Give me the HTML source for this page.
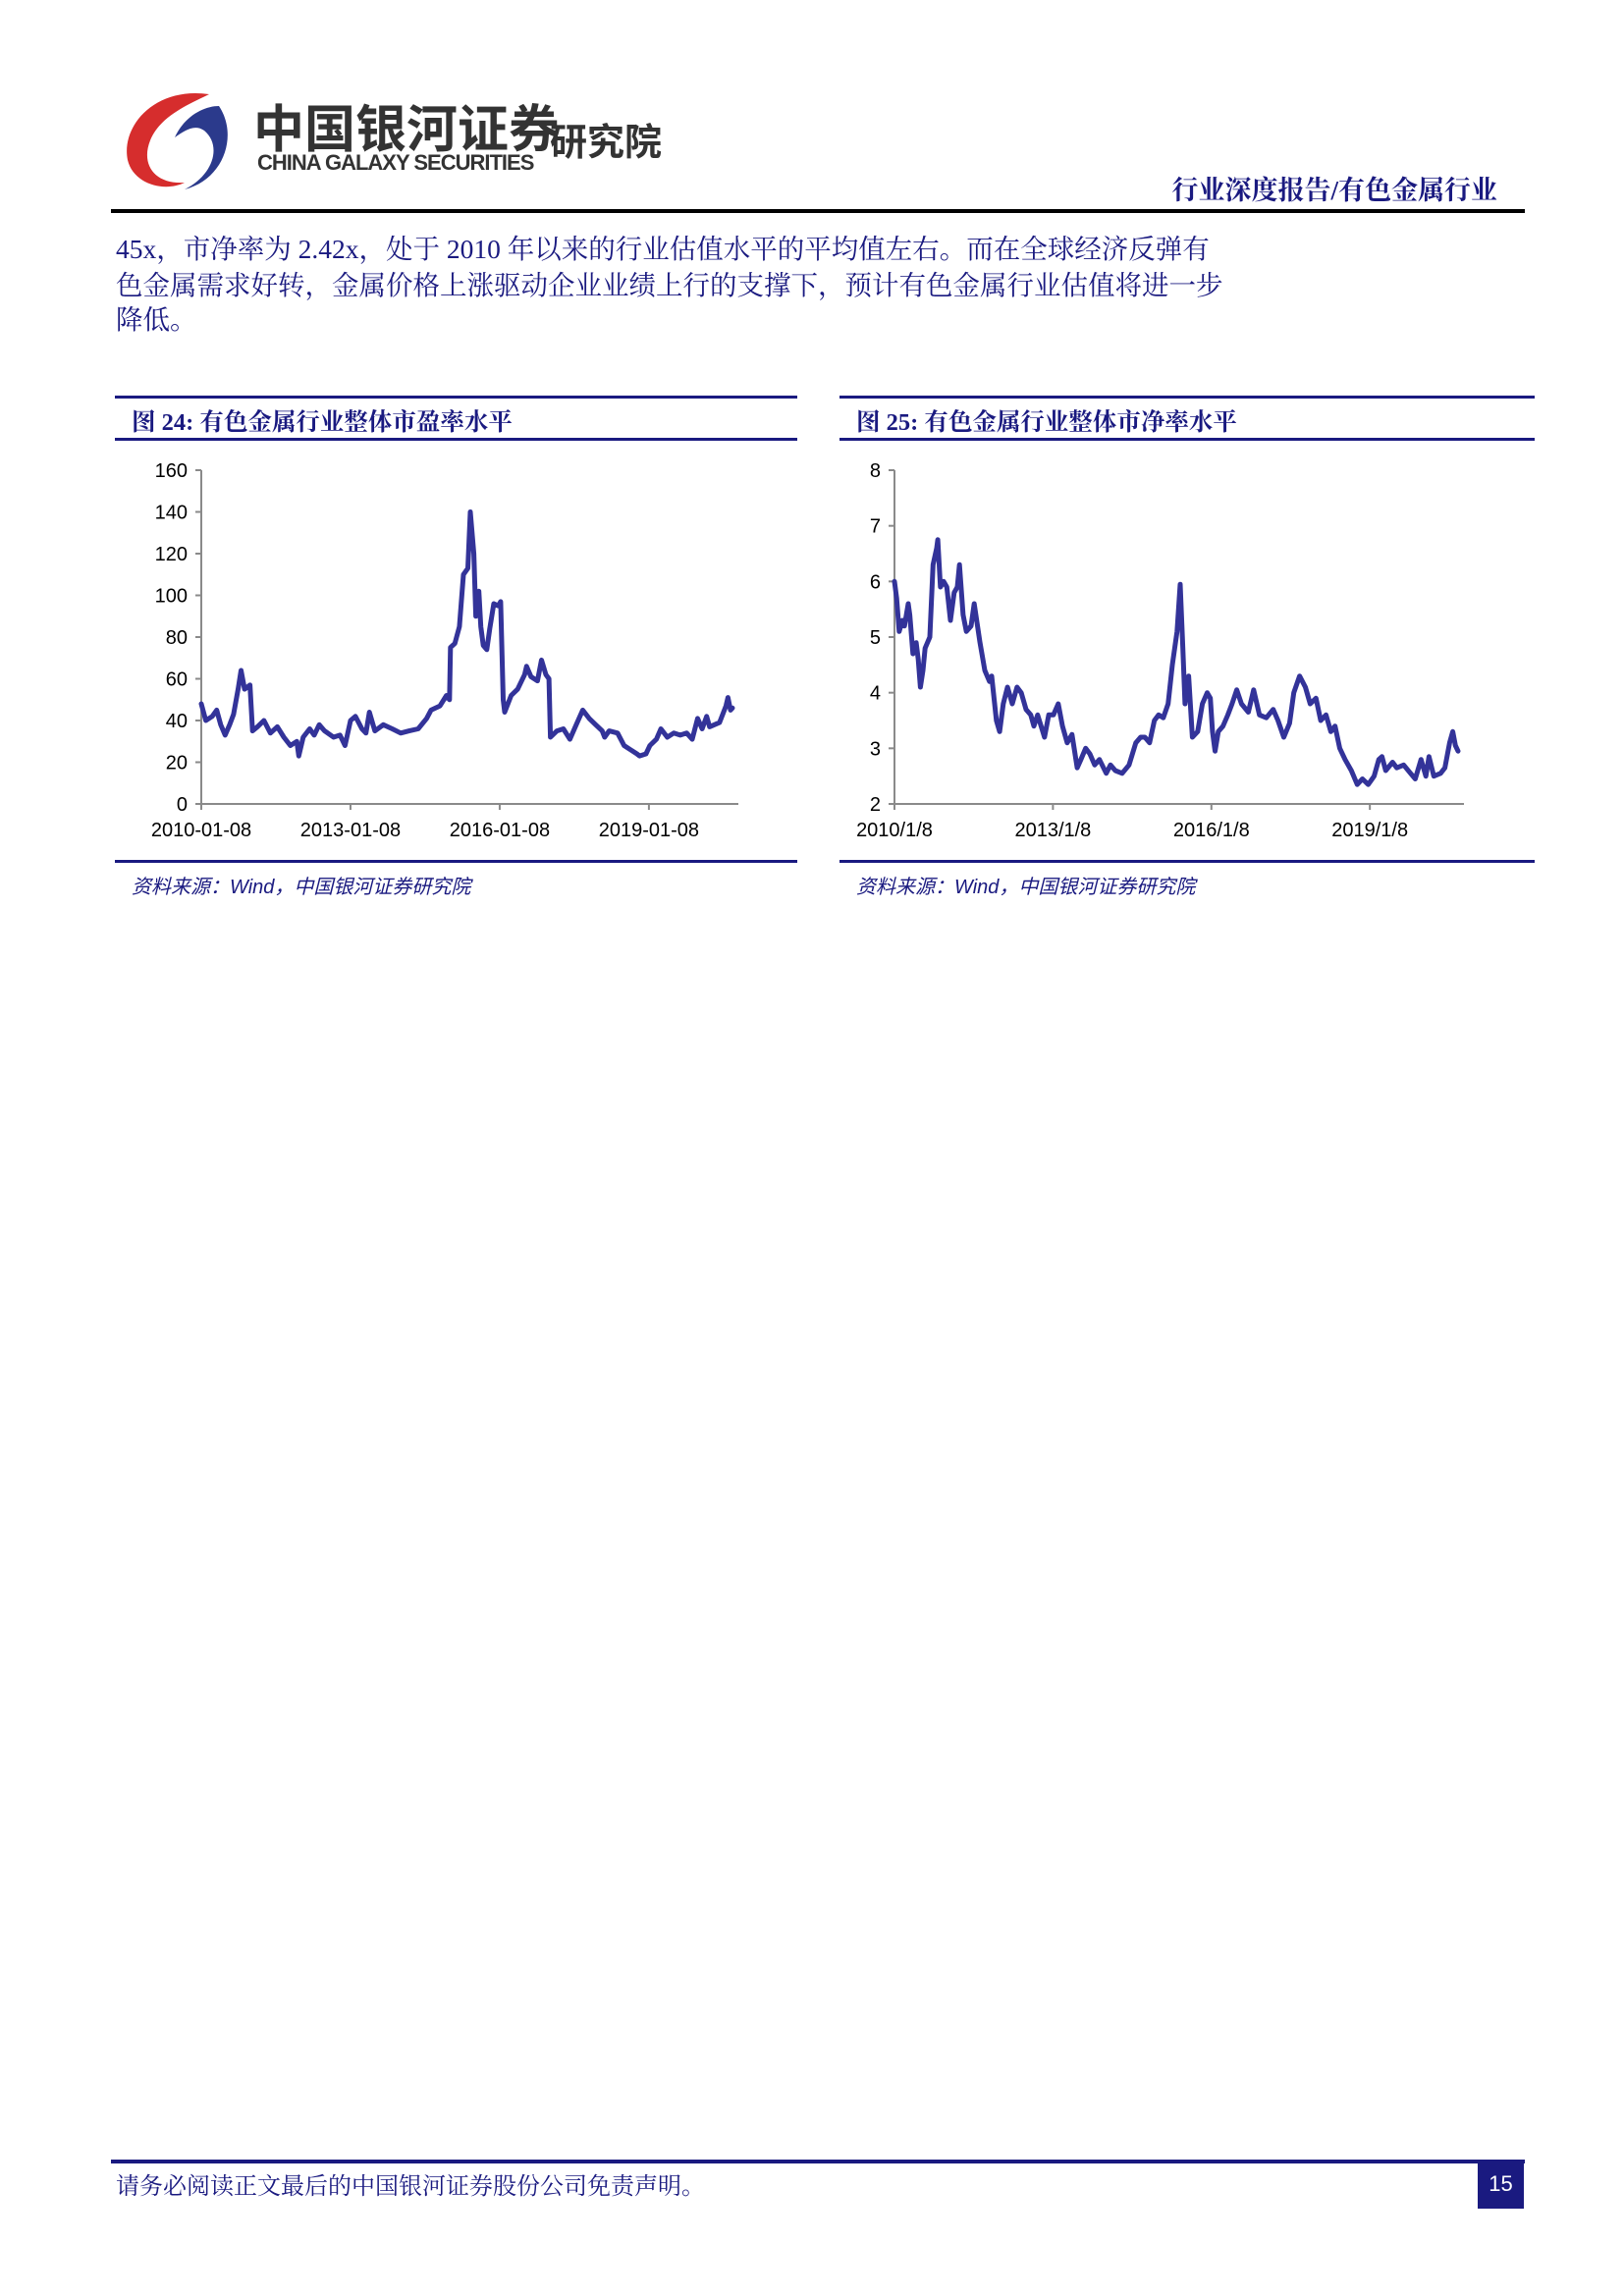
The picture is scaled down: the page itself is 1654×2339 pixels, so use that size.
<!DOCTYPE html>
<html><head><meta charset="utf-8">
<style>
body{margin:0;background:#fff;}
#page{position:relative;width:1654px;height:2339px;overflow:hidden;background:#fff;font-family:"Liberation Serif","Noto Serif CJK SC",serif;}
.abs{position:absolute;white-space:nowrap;}
.body{left:118px;font-size:27.5px;color:#1a1a80;font-family:"Liberation Serif","Noto Serif CJK SC",serif;}
.title{font-size:24.5px;font-weight:bold;color:#1a1a80;}
.src{font-size:20px;font-style:italic;color:#1a1a80;font-family:"Liberation Sans","Noto Sans CJK SC",sans-serif;}
</style></head>
<body>
<div id="page">
  <svg class="abs" style="left:118px;top:88px" width="125" height="108">
    <path d="M95 8 C40 0 5 40 12 75 C18 100 50 108 70 98 C40 100 25 80 35 55 C45 30 75 18 95 8Z" fill="#d62d2d"/>
    <path d="M105 20 C125 50 110 95 70 105 C100 90 108 60 90 45 C80 38 70 45 60 52 C70 30 90 20 105 20Z" fill="#2b3a8c"/>
  </svg>
  <div class="abs" style="left:258px;top:90px;font-size:52px;font-weight:bold;color:#333;font-family:'Liberation Sans','Noto Sans CJK SC',sans-serif;">中国银河证券</div>
  <div class="abs" style="left:560px;top:114px;font-size:38px;font-weight:bold;color:#333;font-family:'Liberation Sans','Noto Sans CJK SC',sans-serif;">研究院</div>
  <div class="abs" style="left:262px;top:153px;font-size:22px;font-weight:bold;color:#333;font-family:'Liberation Sans',sans-serif;letter-spacing:-1px">CHINA GALAXY SECURITIES</div>
  <div class="abs" style="right:129px;top:172px;font-size:27px;font-weight:bold;color:#1a1a80;">行业深度报告/有色金属行业</div>
  <div class="abs" style="left:113px;top:213px;width:1440px;height:4px;background:#000"></div>

  <div class="abs body" style="top:231px">45x，市净率为 2.42x，处于 2010 年以来的行业估值水平的平均值左右。而在全球经济反弹有</div>
  <div class="abs body" style="top:268px">色金属需求好转，金属价格上涨驱动企业业绩上行的支撑下，预计有色金属行业估值将进一步</div>
  <div class="abs body" style="top:303px">降低。</div>

  <div class="abs" style="left:117px;top:403px;width:695px;height:3px;background:#1a1a80"></div>
  <div class="abs title" style="left:134px;top:411px">图 24:  有色金属行业整体市盈率水平</div>
  <div class="abs" style="left:117px;top:446px;width:695px;height:3px;background:#1a1a80"></div>
  <div class="abs" style="left:117px;top:876px;width:695px;height:3px;background:#1a1a80"></div>
  <div class="abs src" style="left:134px;top:887px">资料来源：Wind，中国银河证券研究院</div>

  <div class="abs" style="left:855px;top:403px;width:708px;height:3px;background:#1a1a80"></div>
  <div class="abs title" style="left:872px;top:411px">图 25:  有色金属行业整体市净率水平</div>
  <div class="abs" style="left:855px;top:446px;width:708px;height:3px;background:#1a1a80"></div>
  <div class="abs" style="left:855px;top:876px;width:708px;height:3px;background:#1a1a80"></div>
  <div class="abs src" style="left:872px;top:887px">资料来源：Wind，中国银河证券研究院</div>

  <svg id="charts" class="abs" style="left:0;top:0" width="1654" height="960"></svg>

  <div class="abs" style="left:113px;top:2200px;width:1440px;height:4px;background:#1a1a80"></div>
  <div class="abs" style="left:118px;top:2207px;font-size:24px;color:#1a1a80">请务必阅读正文最后的中国银河证券股份公司免责声明。</div>
  <div class="abs" style="left:1505px;top:2202px;width:47px;height:48px;background:#1a1a80;color:#fff;font-size:22px;text-align:center;line-height:46px;font-family:'Liberation Sans',sans-serif">15</div>
</div>
<script>
// Figure 24: PE (years since 2010-01-08, value)
const peYears=[0,.09,.22,.31,.39,.48,.57,.65,.74,.80,.87,.98,1.03,1.13,1.26,1.39,1.53,1.66,1.79,1.92,1.96,2.05,2.18,2.27,2.37,2.48,2.66,2.79,2.89,3.0,3.10,3.23,3.31,3.38,3.49,3.66,3.84,4.01,4.18,4.36,4.53,4.62,4.80,4.93,4.99,5.01,5.10,5.19,5.27,5.36,5.41,5.48,5.52,5.58,5.62,5.67,5.74,5.80,5.88,5.97,6.02,6.07,6.10,6.23,6.36,6.50,6.54,6.63,6.76,6.84,6.93,6.99,7.02,7.15,7.28,7.41,7.54,7.67,7.80,7.93,8.06,8.11,8.20,8.37,8.50,8.63,8.76,8.81,8.94,9.02,9.15,9.24,9.37,9.50,9.63,9.76,9.87,9.98,10.07,10.16,10.22,10.42,10.55,10.59,10.64,10.68];
const peValues=[48,40,42,45,38,33,38,43,55,64,55,57,35,37,40,34,37,32,28,30,23,32,36,33,38,35,32,33,28,40,42,36,34,44,35,38,36,34,35,36,41,45,47,52,50,75,77,85,110,113,140,120,90,102,85,76,74,84,96,95,97,50,44,52,55,62,66,61,59,69,62,60,32,35,36,31,38,45,41,38,35,32,35,34,28,26,24,23,24,28,31,36,32,34,33,34,31,41,36,42,37,39,47,51,45,46];
const peTicks=[0,20,40,60,80,100,120,140,160];
const peXLabels=["2010-01-08","2013-01-08","2016-01-08","2019-01-08"];
const peXLabelYears=[0,3,6,9];
// Figure 25: PB
const pbYears=[0,.04,.09,.15,.19,.26,.29,.35,.41,.45,.49,.54,.58,.67,.73,.80,.82,.87,.93,.99,1.06,1.13,1.19,1.23,1.30,1.36,1.45,1.51,1.62,1.71,1.80,1.84,1.93,1.99,2.06,2.14,2.23,2.32,2.40,2.49,2.58,2.64,2.71,2.84,2.92,3.01,3.10,3.18,3.27,3.36,3.46,3.53,3.62,3.70,3.79,3.88,4.01,4.09,4.18,4.31,4.44,4.57,4.66,4.74,4.83,4.92,5.00,5.09,5.18,5.26,5.35,5.41,5.46,5.50,5.57,5.64,5.74,5.83,5.92,5.98,6.02,6.07,6.13,6.22,6.31,6.39,6.48,6.57,6.70,6.80,6.91,7.04,7.17,7.26,7.37,7.48,7.56,7.67,7.78,7.87,7.98,8.07,8.17,8.26,8.34,8.43,8.53,8.65,8.76,8.86,8.97,9.08,9.17,9.23,9.30,9.43,9.51,9.64,9.77,9.86,9.97,10.06,10.12,10.21,10.34,10.42,10.51,10.57,10.62,10.67];
const pbValues=[6.0,5.7,5.1,5.3,5.2,5.6,5.4,4.7,4.9,4.6,4.1,4.4,4.8,5.0,6.3,6.6,6.75,5.9,6.0,5.9,5.3,5.8,5.9,6.3,5.4,5.1,5.2,5.6,4.9,4.4,4.2,4.3,3.5,3.3,3.8,4.1,3.8,4.1,4.0,3.7,3.6,3.4,3.6,3.2,3.6,3.6,3.8,3.4,3.1,3.25,2.65,2.8,3.0,2.9,2.7,2.8,2.55,2.7,2.6,2.55,2.7,3.1,3.2,3.2,3.1,3.5,3.6,3.55,3.8,4.5,5.1,5.95,4.8,3.8,4.3,3.2,3.3,3.8,4.0,3.9,3.3,2.95,3.3,3.4,3.6,3.8,4.05,3.8,3.65,4.05,3.6,3.55,3.7,3.5,3.2,3.45,4.0,4.3,4.1,3.8,3.9,3.5,3.6,3.3,3.4,3.0,2.8,2.6,2.35,2.45,2.35,2.5,2.8,2.85,2.6,2.75,2.65,2.7,2.55,2.45,2.8,2.5,2.85,2.5,2.55,2.65,3.1,3.3,3.05,2.95];
const pbTicks=[2,3,4,5,6,7,8];
const pbXLabels=["2010/1/8","2013/1/8","2016/1/8","2019/1/8"];
const pbXLabelYears=[0,3,6,9];

const NS="http://www.w3.org/2000/svg";
const svg=document.getElementById('charts');
function mk(tag,attrs){const e=document.createElementNS(NS,tag);for(const k in attrs)e.setAttribute(k,attrs[k]);svg.appendChild(e);return e;}
function drawChart(cfg,years,values,ticks,xl,xly,prefix){
  const x0=cfg.x0,x1=cfg.x1,yTop=479,yBot=819;
  const ymin=ticks[0],ymax=ticks[ticks.length-1];
  const sx=v=>x0+(v/cfg.span)*(x1-x0);
  const sy=v=>yBot-(v-ymin)/(ymax-ymin)*(yBot-yTop);
  const ax=mk('line',{x1:x0,y1:yTop,x2:x0,y2:yBot,stroke:'#8a8a8a','stroke-width':2});
  
  
  const bx=mk('line',{x1:x0,y1:yBot,x2:x1+6,y2:yBot,stroke:'#8a8a8a','stroke-width':2});
  
  
  ticks.forEach(t=>{
    mk('line',{x1:x0-6,y1:sy(t),x2:x0,y2:sy(t),stroke:'#8a8a8a','stroke-width':2});
    const tx=mk('text',{x:x0-14,y:sy(t)+7,'text-anchor':'end','font-size':20,fill:'#000','font-family':'Liberation Sans, sans-serif'});
    tx.textContent=t;
    
    
  });
  xl.forEach((l,i)=>{
    const x=sx(xly[i]);
    mk('line',{x1:x,y1:yBot,x2:x,y2:yBot+6,stroke:'#8a8a8a','stroke-width':2});
    const tx=mk('text',{x:x,y:yBot+33,'text-anchor':'middle','font-size':20,fill:'#000','font-family':'Liberation Sans, sans-serif'});
    tx.textContent=l;
    
    
  });
  const d=years.map((y,i)=>(i?'L':'M')+sx(y).toFixed(1)+' '+sy(values[i]).toFixed(1)).join(' ');
  const p=mk('path',{d:d,fill:'none',stroke:'#333399','stroke-width':5,'stroke-linejoin':'round','stroke-linecap':'round'});
  
  
}
drawChart({x0:205,x1:746,span:10.68},peYears,peValues,peTicks,peXLabels,peXLabelYears,'pe-chart');
drawChart({x0:911,x1:1485,span:10.67},pbYears,pbValues,pbTicks,pbXLabels,pbXLabelYears,'pb-chart');
</script>
</body></html>
